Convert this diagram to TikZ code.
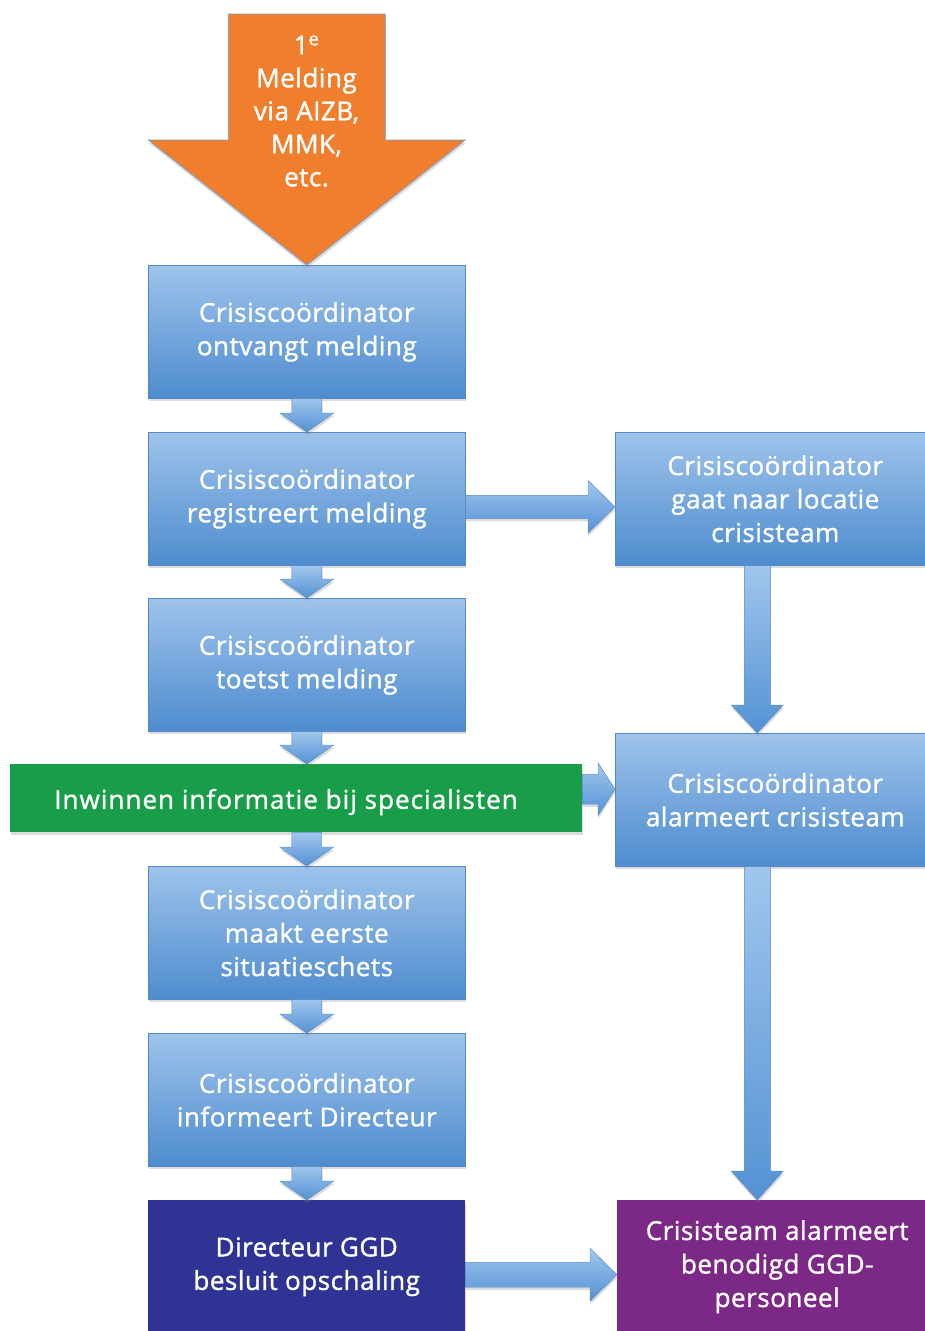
\documentclass[tikz,border=0pt]{standalone}
\usepackage{fontspec}
\setmainfont[FakeBold=1.3, LetterSpace=2.0]{Open Sans}
\usetikzlibrary{calc,shadows}

\definecolor{bluetop}{RGB}{158,195,235}
\definecolor{bluebot}{RGB}{78,140,207}
\definecolor{blueedge}{RGB}{86,136,196}
\definecolor{arrowtop}{RGB}{160,198,237}
\definecolor{arrowbot}{RGB}{84,146,212}
\definecolor{meldorange}{RGB}{240,126,44}
\definecolor{infogreen}{RGB}{24,158,72}
\definecolor{ggdnavy}{RGB}{47,52,148}
\definecolor{teampurple}{RGB}{124,40,134}

\tikzset{
  softshadow/.style={drop shadow={opacity=0.28, shadow xshift=0.5pt, shadow yshift=-3pt}},
  labelfont/.style={font=\fontsize{26}{33.5}\selectfont},
  box/.style={anchor=north west, align=center, text=white, inner sep=0pt,
    labelfont, softshadow},
  stepblue/.style={box, minimum width=317pt, minimum height=133pt,
    top color=bluetop, bottom color=bluebot, draw=blueedge, line width=0.6pt},
  sideblue/.style={stepblue, minimum width=320pt},
  navybox/.style={box, minimum width=317pt, minimum height=133pt, fill=ggdnavy},
  purplebox/.style={box, minimum width=320pt, minimum height=133pt, fill=teampurple},
  greenbar/.style={anchor=north west, inner sep=0pt, minimum width=572pt,
    minimum height=68pt, fill=infogreen, softshadow},
  bartext/.style={text=white, font=\addfontfeature{LetterSpace=4.0}\fontsize{26}{33.5}\selectfont},
  blockarrow/.style={top color=arrowtop, bottom color=arrowbot, draw=blueedge,
    line width=0.4pt, softshadow},
  orangearrow/.style={fill=meldorange, draw=blueedge!80, line width=0.7pt, softshadow},
  arrowtext/.style={align=center, text=white, font=\fontsize{26}{33}\selectfont}
}

% vertical block arrow: source, target, x offset, shaft half width, head half width, head length
\newcommand\downblock[6]{%
  \path[blockarrow] let \p1=(#1.south), \p2=(#2.north) in
    (\x1+#3pt-#4pt,\y1) -- (\x1+#3pt+#4pt,\y1) -- (\x1+#3pt+#4pt,\y2+#6pt)
    -- (\x1+#3pt+#5pt,\y2+#6pt) -- (\x1+#3pt,\y2) -- (\x1+#3pt-#5pt,\y2+#6pt)
    -- (\x1+#3pt-#4pt,\y2+#6pt) -- cycle;}

% horizontal block arrow: source, target, y offset (downwards), shaft half width, head half width, head length
\newcommand\rightblock[6]{%
  \path[blockarrow] let \p1=(#1.east), \p2=(#2.west) in
    (\x1,\y1-#3pt+#4pt) -- (\x2-#6pt,\y1-#3pt+#4pt) -- (\x2-#6pt,\y1-#3pt+#5pt)
    -- (\x2,\y1-#3pt) -- (\x2-#6pt,\y1-#3pt-#5pt) -- (\x2-#6pt,\y1-#3pt-#4pt)
    -- (\x1,\y1-#3pt-#4pt) -- cycle;}

\begin{document}
\begin{tikzpicture}[x=1pt, y=-1pt]
\useasboundingbox (0,0) rectangle (925,1331);

% left column
\node[stepblue] (b1) at (148,265) {Crisiscoördinator\\ontvangt melding};
\node[stepblue] (b2) at (148,432) {Crisiscoördinator\\registreert melding};
\node[stepblue] (b3) at (148,598) {Crisiscoördinator\\toetst melding};
\node[greenbar] (info) at (10,764) {};
\node[bartext] (infotext) at (286,802) {Inwinnen informatie bij specialisten};
\node[stepblue] (b4) at (148,866) {Crisiscoördinator\\maakt eerste\\situatieschets};
\node[stepblue] (b5) at (148,1033) {Crisiscoördinator\\informeert Directeur};
\node[navybox] (b6) at (148,1200) {Directeur GGD\\besluit opschaling};

% right column
\node[sideblue] (r1) at (615,432) {Crisiscoördinator\\gaat naar locatie\\crisisteam};
\node[sideblue] (r2) at (615,733) {Crisiscoördinator\\alarmeert crisisteam};
\node[purplebox] (r3) at (617,1200) {Crisisteam alarmeert\\benodigd GGD-\\personeel};

% incoming report
\path[orangearrow] let \p1=(b1.north) in
  (\x1-78.5pt,\y1+251pt) -- (\x1+78.5pt,\y1+251pt) -- (\x1+78.5pt,\y1+125pt)
  -- (\x1+158.5pt,\y1+125pt) -- (\x1,\y1) -- (\x1-158.5pt,\y1+125pt)
  -- (\x1-78.5pt,\y1+125pt) -- cycle;
\node[arrowtext] (melding) at (306.5,111) {1\textsuperscript{e}\\Melding\\via AIZB,\\MMK,\\etc.};

% flow in the left column
\downblock{b1}{b2}{0}{15}{27}{19}
\downblock{b2}{b3}{0}{15}{27}{19}
\downblock{b3}{info}{0}{15}{27}{19}
\downblock{info}{b4}{10.5}{15}{27}{19}
\downblock{b4}{b5}{0}{15}{27}{19}
\downblock{b5}{b6}{0}{15}{27}{19}

% flow in the right column
\downblock{r1}{r2}{-18}{13}{26}{28}
\downblock{r2}{r3}{-18}{13}{26}{29}

% cross connections
\rightblock{b2}{r1}{8}{11.5}{26.5}{27}
\rightblock{info}{r2}{-9}{15}{26.5}{17}
\rightblock{b6}{r3}{8}{12.5}{26.5}{27}
\end{tikzpicture}
\end{document}
